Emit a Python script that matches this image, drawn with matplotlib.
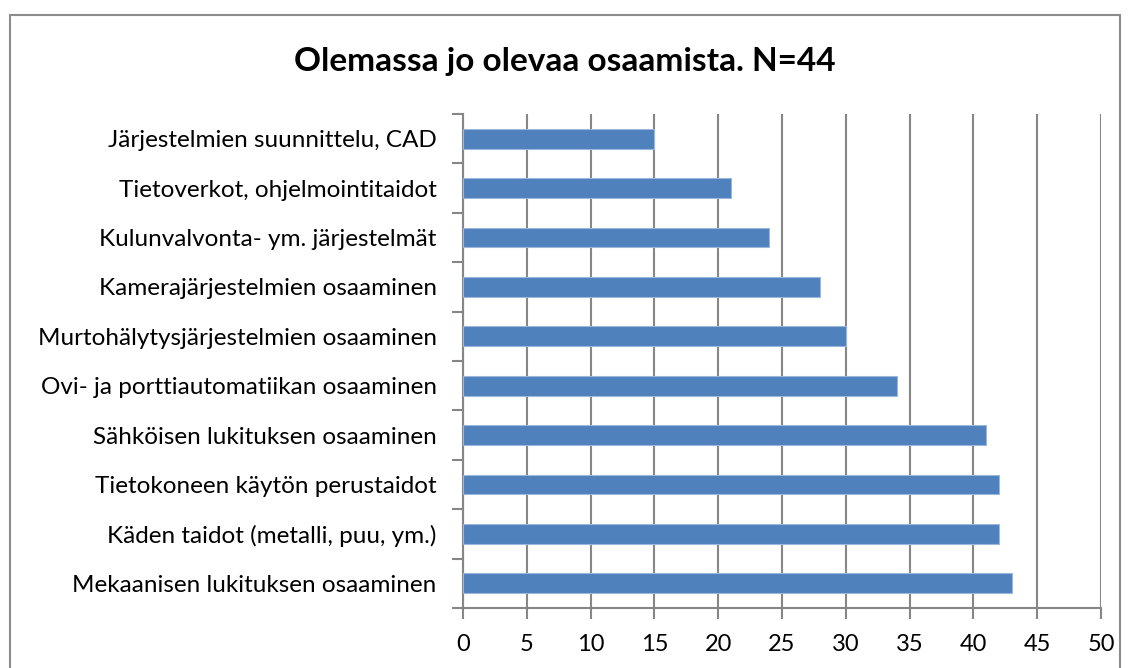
import matplotlib.pyplot as plt
from matplotlib.patches import Rectangle
import numpy as np

# categories from bottom to top, as drawn
categories = [
    "Mekaanisen lukituksen osaaminen",
    "Käden taidot (metalli, puu, ym.)",
    "Tietokoneen käytön perustaidot",
    "Sähköisen lukituksen osaaminen",
    "Ovi- ja porttiautomatiikan osaaminen",
    "Murtohälytysjärjestelmien osaaminen",
    "Kamerajärjestelmien osaaminen",
    "Kulunvalvonta- ym. järjestelmät",
    "Tietoverkot, ohjelmointitaidot",
    "Järjestelmien suunnittelu, CAD",
]
values = [43, 42, 42, 41, 34, 30, 28, 24, 21, 15]
xticks = list(range(0, 51, 5))
title = "Olemassa jo olevaa osaamista. N=44"

plt.rcParams['font.family'] = ['Lato', 'DejaVu Sans']

fig = plt.figure(figsize=(11.31, 6.68), dpi=100)
ax = fig.add_axes([463/1131, 1-608/668, (1101-463)/1131, (608-114)/668])

grid_c = "#868686"
y = np.arange(len(categories))
ax.barh(y, values, height=0.4, color="#4F81BD", edgecolor="#9BB7DB",
        linewidth=0.8, zorder=3)

ax.set_xlim(0, 50)
ax.set_ylim(-0.5, len(categories) - 0.5)
ax.set_xticks(xticks)
ax.set_xticklabels([str(t) for t in xticks], fontsize=17)
ax.set_yticks(y)
ax.set_yticklabels(categories, fontsize=17.5)
ax.set_yticks(np.arange(-0.5, len(categories)), minor=True)

ax.grid(axis="x", color=grid_c, linewidth=1.5, zorder=0)
ax.tick_params(axis="y", which="major", length=0, pad=19)
ax.tick_params(axis="y", which="minor", length=8, width=1.5, color=grid_c)
ax.tick_params(axis="x", length=8, width=1.5, color=grid_c, pad=11)
for s in ["top", "right"]:
    ax.spines[s].set_visible(False)
for s in ["left", "bottom"]:
    ax.spines[s].set_color(grid_c)
    ax.spines[s].set_linewidth(1.5)

fig.text(0.4996, 1 - 62/668, title, ha="center", va="center",
         fontsize=24, fontweight="bold")

frame = Rectangle((10/1131, -0.1), (1120-10)/1131, 1 - 15/668 + 0.1,
                  transform=fig.transFigure, fill=False,
                  edgecolor="#8c8c8c", linewidth=1.5, clip_on=False)
fig.patches.append(frame)

fig.savefig("out.png", dpi=100)
